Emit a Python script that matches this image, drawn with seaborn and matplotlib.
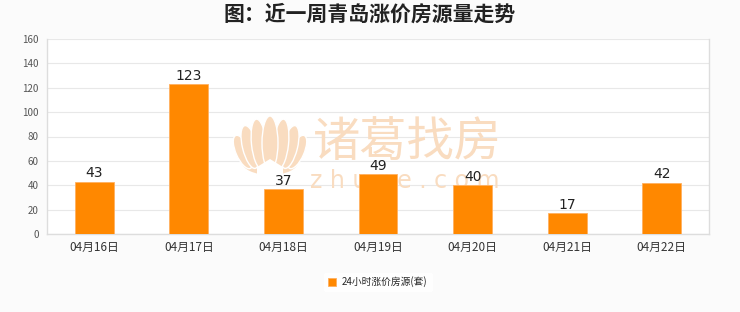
import matplotlib
matplotlib.use("Agg")
import matplotlib.pyplot as plt
from matplotlib.patches import Ellipse, Polygon
from matplotlib.transforms import Affine2D
import seaborn as sns
import pandas as pd

dates = ["04月16日", "04月17日", "04月18日", "04月19日", "04月20日", "04月21日", "04月22日"]
counts = [43, 123, 37, 49, 40, 17, 42]
y_ticks = [0, 20, 40, 60, 80, 100, 120, 140, 160]
series_name = "24小时涨价房源(套)"
title = "图：近一周青岛涨价房源量走势"

sns.set_theme(style="white")
plt.rcParams["font.family"] = ["Noto Sans CJK SC", "DejaVu Sans"]

df = pd.DataFrame({"date": dates, "count": counts, "series": series_name})

W, H, DPI = 740, 312, 100
fig = plt.figure(figsize=(W / DPI, H / DPI), dpi=DPI, facecolor="#fbfbfb")
ax = fig.add_axes([47 / W, 1 - 234 / H, (709 - 47) / W, (234 - 39) / H])
ax.set_facecolor("white")

sns.barplot(data=df, x="date", y="count", hue="series", palette=["#ff8800"],
            saturation=1, width=0.41, ax=ax, legend=True,
            edgecolor="#ffb060", linewidth=0.6, zorder=3)

ax.set_ylim(0, 160)
ax.set_yticks(y_ticks)
ax.set_yticklabels([str(v) for v in y_ticks], fontsize=7, color="#555555")
ax.tick_params(axis="x", labelsize=8.5, colors="#333333", length=0, pad=5)
ax.tick_params(axis="y", length=0, pad=6)
ax.set_xlabel("")
ax.set_ylabel("")
ax.grid(axis="y", color="#e8e8e8", linewidth=0.8, zorder=0)
ax.set_axisbelow(True)
for side in ["left", "bottom", "right"]:
    ax.spines[side].set_color("#dddddd")
    ax.spines[side].set_linewidth(1)
ax.spines["top"].set_visible(False)

for container in ax.containers:
    ax.bar_label(container, labels=[str(v) for v in counts], fontsize=10,
                 color="#222222", padding=1, family="DejaVu Sans", zorder=4)

# brand watermark (lotus mark + name), laid out in pixel units, behind the bars
wm = "#f9dcc0"
px = Affine2D().scale(1 / DPI) + fig.dpi_scale_trans


def pt(x, y):
    return (x, H - y)


petals = [  # (x, y, width, height, angle), outer ones first
    (243, 152, 14, 36, 24), (297, 152, 14, 36, -24),
    (250, 147, 15, 44, 14), (290, 147, 15, 44, -14),
    (259, 144, 15, 50, 6), (281, 144, 15, 50, -6),
    (270, 143, 16, 54, 0),
]
ax.add_artist(Ellipse(pt(270, 162), 56, 26, transform=px, facecolor=wm,
                      edgecolor="none", zorder=1))
for x, y, w, h, a in petals:
    ax.add_artist(Ellipse(pt(x, y), w, h, angle=a, transform=px,
                          facecolor=wm, edgecolor="white", linewidth=1.0,
                          zorder=1))
ax.add_artist(Polygon([pt(257, 176), pt(257, 167), pt(270, 159), pt(283, 167),
                       pt(283, 176)], closed=True, transform=px,
                      facecolor="white", edgecolor="none", zorder=1.1))

ax.text(0.545, 0.468, "诸葛找房", transform=ax.transAxes, fontsize=34,
        color=wm, ha="center", va="center", zorder=1)
ax.text(0.54, 0.27, "z h u g e . c o m", transform=ax.transAxes, fontsize=17,
        color=wm, ha="center", va="center", zorder=1,
        family="DejaVu Sans")

leg = ax.legend(loc="center", bbox_to_anchor=(0.5, -0.246), frameon=True,
                fontsize=7, handlelength=0.8, handleheight=0.8, handletextpad=0.6,
                borderpad=0.4)
leg.get_frame().set_facecolor("white")
leg.get_frame().set_edgecolor("white")

fig.text(0.5, 1 - 14 / H, title, ha="center", va="center", fontsize=15,
         fontweight="bold", color="#222222")

fig.savefig("out.png", dpi=DPI, facecolor=fig.get_facecolor())
